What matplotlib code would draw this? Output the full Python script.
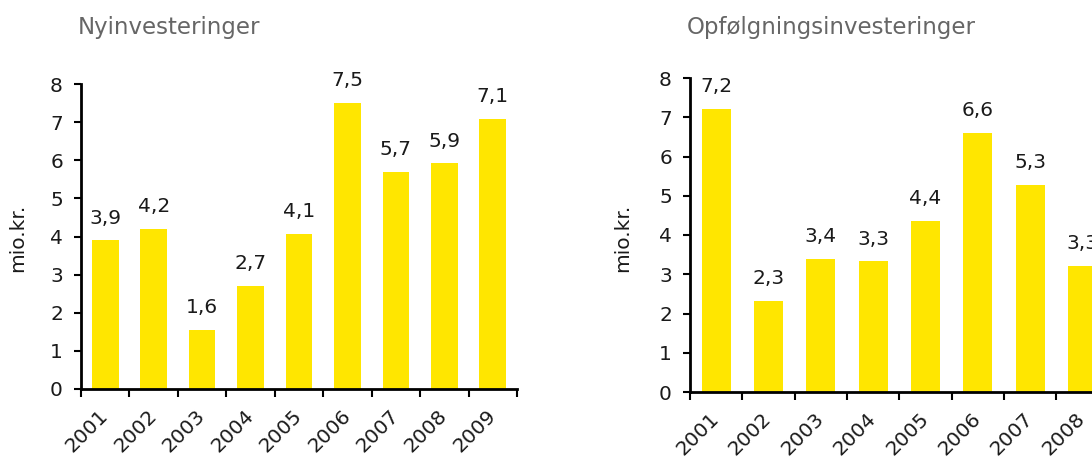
import matplotlib
matplotlib.use("Agg")
import matplotlib.pyplot as plt
import numpy as np

years = ["2001", "2002", "2003", "2004", "2005", "2006", "2007", "2008", "2009"]

ny_values = [3.9, 4.2, 1.55, 2.7, 4.07, 7.5, 5.7, 5.92, 7.08]
ny_labels = ["3,9", "4,2", "1,6", "2,7", "4,1", "7,5", "5,7", "5,9", "7,1"]

opf_years = ["2001", "2002", "2003", "2004", "2005", "2006", "2007", "2008"]
opf_values = [7.21, 2.32, 3.39, 3.33, 4.36, 6.6, 5.27, 3.22]
opf_labels = ["7,2", "2,3", "3,4", "3,3", "4,4", "6,6", "5,3", "3,3"]

titles = ["Nyinvesteringer", "Opfølgningsinvesteringer"]
ylabel = "mio.kr."
yticks = [0, 1, 2, 3, 4, 5, 6, 7, 8]

BAR = "#FFE600"
TITLE_C = "#666666"
TXT = "#1a1a1a"
FS = 14.5

plt.rcParams['font.family'] = ['DejaVu Sans']

fig = plt.figure(figsize=(10.92, 4.63), dpi=100)


def draw(ax, cats, vals, labels, nslots, title, title_x, title_y, ylab_x):
    x = np.arange(len(cats))
    ax.bar(x, vals, width=0.55, color=BAR, zorder=2)
    for xi, v, lab in zip(x, vals, labels):
        ax.annotate(lab, (xi, v), xytext=(0, 12), textcoords="offset points",
                    ha="center", va="baseline", fontsize=FS, color=TXT)
    ax.set_xlim(-0.5, nslots - 0.5)
    ax.set_ylim(0, 8)
    ax.set_yticks(yticks)
    ax.set_yticklabels([str(t) for t in yticks], fontsize=FS, color=TXT)
    ax.set_xticks(x)
    ax.set_xticklabels(cats, rotation=45, ha="right", va="center",
                       rotation_mode="anchor", fontsize=FS, color=TXT)
    ax.tick_params(axis="x", which="major", length=0, pad=17)
    ax.set_xticks(np.arange(nslots + 1) - 0.5, minor=True)
    ax.tick_params(axis="x", which="minor", length=6, width=1.5, direction="out")
    ax.tick_params(axis="y", length=5, width=1.5, direction="out", pad=8)
    for s in ["top", "right"]:
        ax.spines[s].set_visible(False)
    for s in ["left", "bottom"]:
        ax.spines[s].set_linewidth(2)
    fig.text(ylab_x, 0.487, ylabel, rotation=90, ha="center", va="center",
             fontsize=FS, color=TXT)
    fig.text(title_x, title_y, title, ha="left", va="baseline",
             fontsize=16.5, color=TITLE_C)


ax1 = fig.add_axes([81 / 1092, 74 / 463, 436 / 1092, 305 / 463])
draw(ax1, years, ny_values, ny_labels, 9, titles[0], 78 / 1092, 1 - 34 / 463, 18 / 1092)

ax2 = fig.add_axes([690 / 1092, 71 / 463, 471 / 1092, 314 / 463])
draw(ax2, opf_years, opf_values, opf_labels, 9, titles[1], 687 / 1092, 1 - 34 / 463, 623 / 1092)

fig.savefig("out.png", dpi=100)
